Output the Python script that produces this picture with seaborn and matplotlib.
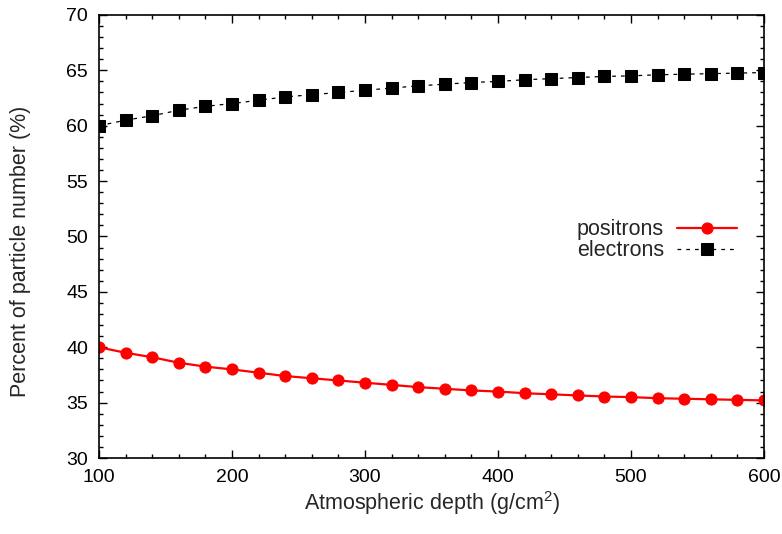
import matplotlib
matplotlib.use("Agg")
import matplotlib.pyplot as plt
import seaborn as sns
import pandas as pd
from matplotlib.ticker import MultipleLocator

sns.set_style("ticks")
plt.rcParams['font.family'] = ['Liberation Sans', 'DejaVu Sans']
plt.rcParams['mathtext.fontset'] = 'custom'
plt.rcParams['mathtext.rm'] = 'Liberation Sans'

depth = [100, 120, 140, 160, 180, 200, 220, 240, 260, 280, 300, 320, 340,
         360, 380, 400, 420, 440, 460, 480, 500, 520, 540, 560, 580, 600]
positrons = [40.0, 39.5, 39.1, 38.6, 38.25, 38.0, 37.7, 37.4, 37.2, 37.0, 36.8,
             36.6, 36.4, 36.25, 36.1, 36.0, 35.85, 35.75, 35.65, 35.55, 35.5,
             35.4, 35.35, 35.3, 35.25, 35.2]
electrons = [60.0, 60.5, 60.9, 61.4, 61.75, 62.0, 62.3, 62.6, 62.8, 63.0, 63.2,
             63.4, 63.6, 63.75, 63.9, 64.0, 64.15, 64.25, 64.35, 64.45, 64.5,
             64.6, 64.65, 64.7, 64.75, 64.8]

df = pd.DataFrame({"depth": depth, "positrons": positrons, "electrons": electrons})

fig = plt.figure(figsize=(7.82, 5.34), dpi=100)
ax = fig.add_axes([0.1266, 0.1423, 0.977 - 0.1266, 0.972 - 0.1423])

sns.lineplot(data=df, x="depth", y="positrons", ax=ax, color="#ff0000",
             marker="o", markersize=8, markeredgecolor="#ff0000", linewidth=1.6,
             label="positrons")
sns.lineplot(data=df, x="depth", y="electrons", ax=ax, color="black",
             marker="s", markersize=8, markeredgecolor="black", linewidth=0.9,
             linestyle=(0, (3, 4)), label="electrons")

ax.set_xlim(100, 600)
ax.set_ylim(30, 70)
ax.xaxis.set_major_locator(MultipleLocator(100))
ax.xaxis.set_minor_locator(MultipleLocator(20))
ax.yaxis.set_major_locator(MultipleLocator(5))
ax.yaxis.set_minor_locator(MultipleLocator(1))
ax.tick_params(which="both", direction="in", top=True, right=True, width=1.0,
               colors="black", labelsize=14)
ax.tick_params(which="major", length=6, pad=8)
ax.tick_params(which="minor", length=3)
for s in ax.spines.values():
    s.set_linewidth(1.2)
    s.set_color("black")

ax.set_xlabel("Atmospheric depth (g/cm$^2$)", fontsize=15.5)
ax.set_ylabel("Percent of particle number (%)", fontsize=15.5)
ax.xaxis.set_label_coords(0.5, -0.102)
ax.yaxis.set_label_coords(-0.118, 0.467)
ax.xaxis.label.set_va("center")
ax.yaxis.label.set_va("center")

leg = ax.legend(loc="center left", bbox_to_anchor=(0.724, 0.55),
                bbox_transform=fig.transFigure, frameon=False,
                markerfirst=False, handlelength=2.8, fontsize=15.5,
                labelspacing=0.0, handletextpad=0.6, borderpad=0.0)

fig.savefig("out.png", dpi=100)
